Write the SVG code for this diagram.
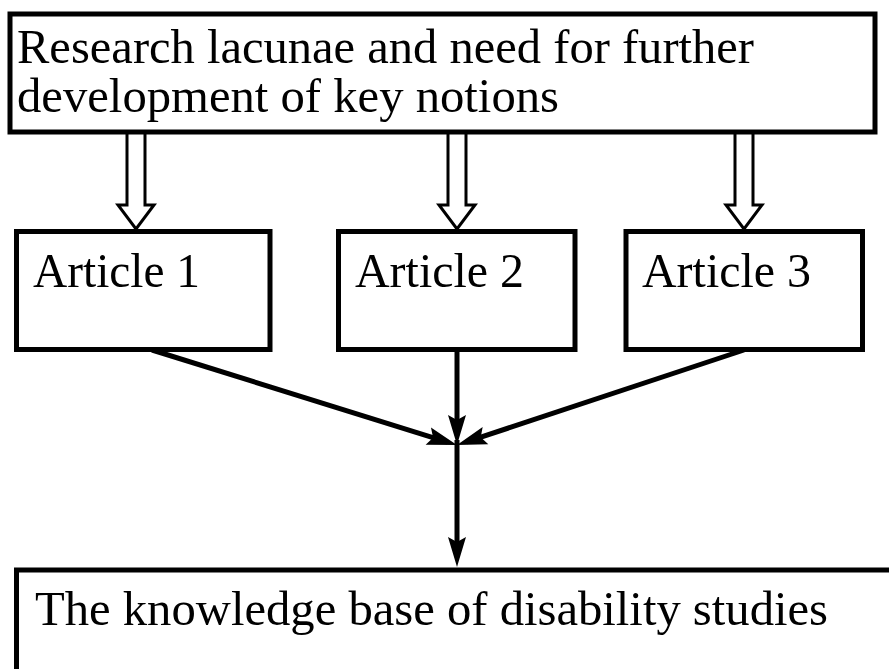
<svg xmlns="http://www.w3.org/2000/svg" width="889" height="669" viewBox="0 0 889 669">
  <style>
    .box { fill: #ffffff; stroke: #000000; stroke-width: 5; }
    .lbl { font-family: "Liberation Serif", "Times New Roman", serif; font-size: 49px; fill: #000000; }
    .hollow { fill: #ffffff; stroke: #000000; stroke-width: 3; stroke-linejoin: miter; }
    .link { fill: none; stroke: #000000; stroke-width: 5; }
  </style>
  <defs>
    <marker id="head" markerUnits="userSpaceOnUse" orient="auto" refX="8" refY="0" markerWidth="30" markerHeight="30" overflow="visible">
      <path d="M-12,-9 L18,0 L-12,9 L-7,0 Z" fill="#000000"/>
    </marker>
  </defs>
  <rect width="889" height="669" fill="#ffffff"/>

  <g id="connectors">
    <polygon class="hollow" points="127,131 145,131 145,205 154,205 136,229 118,205 127,205"/>
    <polygon class="hollow" points="448,131 466,131 466,205 475,205 457,229 439,205 448,205"/>
    <polygon class="hollow" points="735,131 753,131 753,205 762,205 744,229 726,205 735,205"/>
    <line class="link" x1="152" y1="350" x2="447.4" y2="442.1" marker-end="url(#head)"/>
    <line class="link" x1="457" y1="350" x2="457" y2="435" marker-end="url(#head)"/>
    <line class="link" x1="744" y1="350" x2="466.5" y2="441.9" marker-end="url(#head)"/>
    <line class="link" x1="457" y1="440" x2="457" y2="557" marker-end="url(#head)"/>
  </g>

  <g id="node-research">
    <rect class="box" x="10" y="14" width="865" height="118"/>
    <text class="lbl" x="17" y="63" textLength="737" lengthAdjust="spacingAndGlyphs">Research lacunae and need for further</text>
    <text class="lbl" x="17" y="112" textLength="542" lengthAdjust="spacingAndGlyphs">development of key notions</text>
  </g>

  <g id="node-article1">
    <rect class="box" x="16.5" y="231.5" width="253.5" height="118"/>
    <text class="lbl" x="33" y="287" textLength="167" lengthAdjust="spacingAndGlyphs">Article 1</text>
  </g>

  <g id="node-article2">
    <rect class="box" x="338.5" y="231.5" width="236.5" height="118"/>
    <text class="lbl" x="355" y="287" textLength="169" lengthAdjust="spacingAndGlyphs">Article 2</text>
  </g>

  <g id="node-article3">
    <rect class="box" x="626" y="231.5" width="236.5" height="118"/>
    <text class="lbl" x="642" y="287" textLength="169" lengthAdjust="spacingAndGlyphs">Article 3</text>
  </g>

  <g id="node-knowledge">
    <rect class="box" x="16.5" y="570" width="890" height="110"/>
    <text class="lbl" x="35" y="625" textLength="793" lengthAdjust="spacingAndGlyphs">The knowledge base of disability studies</text>
  </g>
</svg>
